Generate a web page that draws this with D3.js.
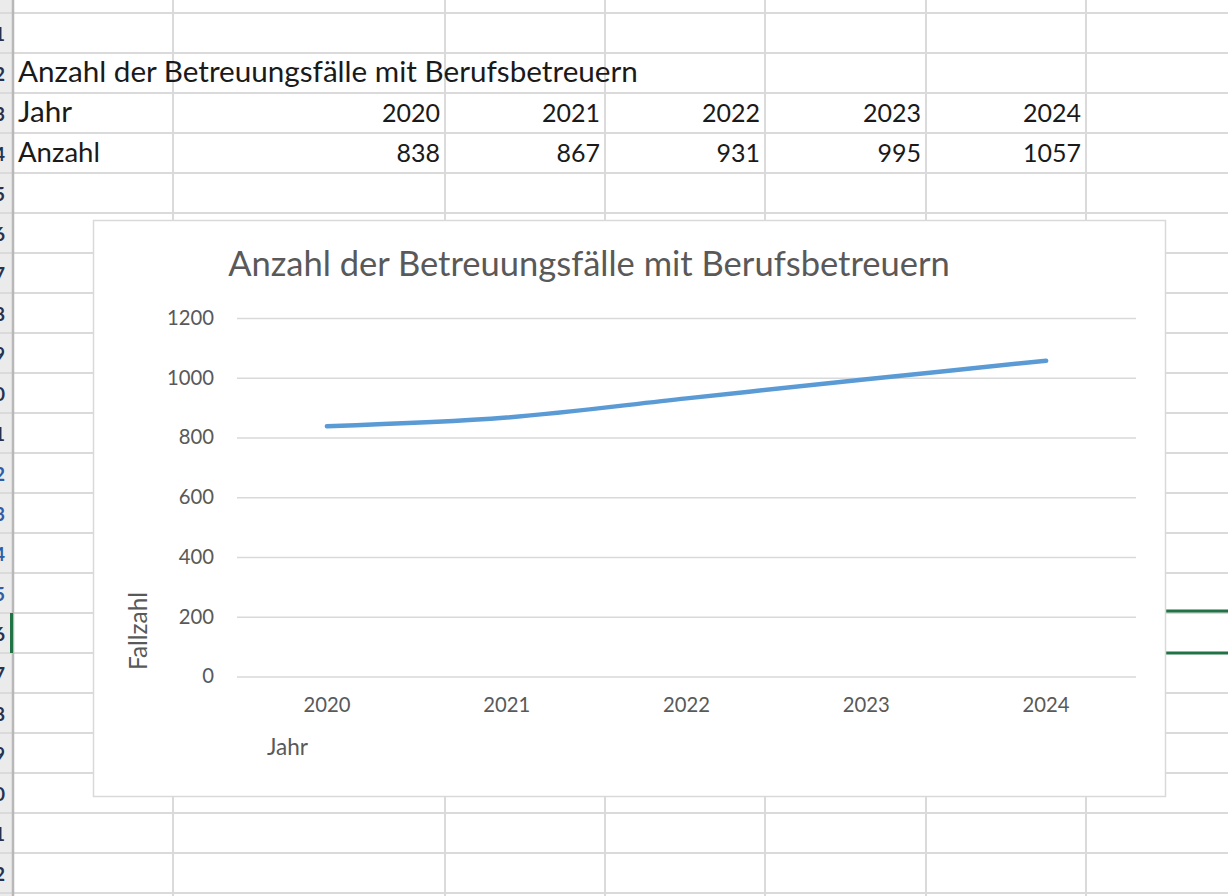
<!DOCTYPE html>
<html><head><meta charset="utf-8">
<script src="https://cdn.jsdelivr.net/npm/d3@7"></script>
<style>
html,body{margin:0;padding:0;background:#fff;overflow:hidden;}
svg{display:block;font-family:Lato,"Open Sans",sans-serif;}
</style></head>
<body>
<svg id="c" width="1228" height="896"></svg>
<script>
// ---- data ----
const tableTitle = "Anzahl der Betreuungsfälle mit Berufsbetreuern";
const chartTitle = "Anzahl der Betreuungsfälle mit Berufsbetreuern";
const rowLabelYear = "Jahr";
const rowLabelCount = "Anzahl";
const years = ["2020", "2021", "2022", "2023", "2024"];
const counts = [838, 867, 931, 995, 1057];
const yTicks = [0, 200, 400, 600, 800, 1000, 1200];
const yAxisTitle = "Fallzahl";
const xAxisTitle = "Jahr";
const rowNumbers = ["11","12","13","14","15","16","17","18","19","20","21","22","23","24","25","26","27","28","29","30","31","32"];

const svg = d3.select("#c");
const W = 1228, H = 896;

function fit(sel, target) {
  const n = sel.node();
  const fs = parseFloat(sel.attr("font-size"));
  const w = n.getComputedTextLength();
  const nf = fs * target / w;
  sel.attr("font-size", nf);
  return nf;
}

function draw() {
  // ---- spreadsheet background ----
  const rowTop = 13, rowH = 40;
  const colEdges = [173, 445, 605, 765, 926, 1086];
  const grid = svg.append("g");
  grid.append("rect").attr("x", 0).attr("y", 0).attr("width", 12).attr("height", H).attr("fill", "#ebebeb");
  const rowLines = d3.range(0, 23).map(i => rowTop + i * rowH);
  grid.selectAll("line.row").data(rowLines).join("line")
    .attr("x1", 0).attr("x2", W).attr("y1", d => d).attr("y2", d => d)
    .attr("stroke", "#dadada").attr("stroke-width", 2);
  grid.selectAll("line.col").data(colEdges).join("line")
    .attr("x1", d => d).attr("x2", d => d).attr("y1", 0).attr("y2", H)
    .attr("stroke", "#dadada").attr("stroke-width", 2);
  grid.append("line").attr("x1", 13).attr("x2", 13).attr("y1", 0).attr("y2", H)
    .attr("stroke", "#b8b8b8").attr("stroke-width", 2.5);

  // row numbers (mostly hidden behind the left edge, as in the screenshot)
  svg.append("defs").append("clipPath").attr("id", "rh")
    .append("rect").attr("x", 0).attr("y", 0).attr("width", 10).attr("height", H);
  svg.append("g").attr("clip-path", "url(#rh)")
    .selectAll("text").data(rowNumbers).join("text")
    .attr("x", 5).attr("y", (d, i) => rowTop + i * rowH + 28)
    .attr("text-anchor", "end").attr("font-size", 19).attr("font-weight", 700)
    .attr("fill", (d, i) => (i >= 11 && i <= 14) ? "#2f5da8" : "#26324f")
    .text(d => d);

  // selection marker (green)
  svg.append("rect").attr("x", 10).attr("y", 613).attr("width", 3).attr("height", 40).attr("fill", "#217346");

  // table text
  const t0 = svg.append("text").attr("x", 18).attr("y", 82).attr("font-size", 22)
    .attr("fill", "#1a1a1a").text(tableTitle);
  const cellFs = fit(t0, 620);
  svg.append("text").attr("x", 18).attr("y", 122).attr("font-size", cellFs).attr("fill", "#1a1a1a").text(rowLabelYear);
  const lblA = svg.append("text").attr("x", 18).attr("y", 162).attr("font-size", cellFs).attr("fill", "#1a1a1a").text(rowLabelCount);
  fit(lblA, 82);
  const rightEdges = colEdges.slice(1);
  const yrs = svg.selectAll("text.yr").data(years).join("text").attr("class", "yr")
    .attr("x", (d, i) => rightEdges[i] - 5).attr("y", 122).attr("text-anchor", "end")
    .attr("font-size", cellFs).attr("fill", "#1a1a1a").text(d => d);
  const numFs = fit(yrs.filter((d, i) => i === 0), 58);
  yrs.attr("font-size", numFs);
  svg.selectAll("text.cnt").data(counts).join("text").attr("class", "cnt")
    .attr("x", (d, i) => rightEdges[i] - 5).attr("y", 162).attr("text-anchor", "end")
    .attr("font-size", numFs).attr("fill", "#1a1a1a").text(d => d);

  // green selection borders to the right of the chart
  svg.selectAll("line.sel").data([611, 653]).join("line")
    .attr("x1", 1160).attr("x2", W).attr("y1", d => d).attr("y2", d => d)
    .attr("stroke", "#217346").attr("stroke-width", 3);

  // ---- chart ----
  svg.append("rect").attr("x", 93.5).attr("y", 220.5).attr("width", 1072).attr("height", 576)
    .attr("fill", "#fff").attr("stroke", "#d9d9d9").attr("stroke-width", 1.5);

  const left = 237, right = 1136, top = 318, bottom = 676.5;
  const x = d3.scaleBand().domain(years).range([left, right]);
  const y = d3.scaleLinear().domain([0, 1200]).range([bottom, top]);

  const title = svg.append("text").attr("x", (228 + 950) / 2).attr("y", 276)
    .attr("text-anchor", "middle").attr("font-size", 30).attr("fill", "#595959").text(chartTitle);
  fit(title, 722);

  const yAxis = svg.append("g").attr("transform", `translate(${left},0)`)
    .call(d3.axisLeft(y).tickValues(yTicks).tickSize(-(right - left)).tickPadding(23).tickFormat(d3.format("d")));
  yAxis.attr("font-family", null).attr("font-size", null);
  yAxis.select(".domain").remove();
  yAxis.selectAll(".tick line").attr("stroke", "#d9d9d9").attr("stroke-width", 1.5);
  yAxis.selectAll(".tick text").attr("fill", "#595959").attr("font-size", 20);
  const probe = yAxis.selectAll(".tick text").filter(d => d === 1200);
  const tickFs = fit(probe, 47);
  yAxis.selectAll(".tick text").attr("font-size", tickFs);

  const xAxis = svg.append("g").attr("transform", `translate(0,${bottom})`)
    .call(d3.axisBottom(x).tickSize(0).tickPadding(0));
  xAxis.attr("font-family", null).attr("font-size", null);
  xAxis.select(".domain").remove();
  xAxis.selectAll(".tick text").attr("fill", "#595959")
    .attr("font-size", tickFs).attr("dy", null).attr("y", 712 - bottom);

  const line = d3.line().x((d, i) => x(years[i]) + x.bandwidth() / 2).y(d => y(d))
    .curve(d3.curveCatmullRom.alpha(0.5));
  svg.append("path").datum(counts).attr("d", line).attr("fill", "none")
    .attr("stroke", "#5b9bd5").attr("stroke-width", 4.5).attr("stroke-linecap", "round").attr("stroke-linejoin", "round");

  const xt = svg.append("text").attr("x", 267).attr("y", 755).attr("font-size", 20)
    .attr("fill", "#595959").text(xAxisTitle);
  fit(xt, 41);
  const yt = svg.append("text").attr("transform", "translate(147,631) rotate(-90)")
    .attr("text-anchor", "middle").attr("font-size", 20).attr("fill", "#595959").text(yAxisTitle);
  fit(yt, 78);
}

if (document.fonts && document.fonts.ready) document.fonts.ready.then(draw); else draw();
</script>
</body></html>
